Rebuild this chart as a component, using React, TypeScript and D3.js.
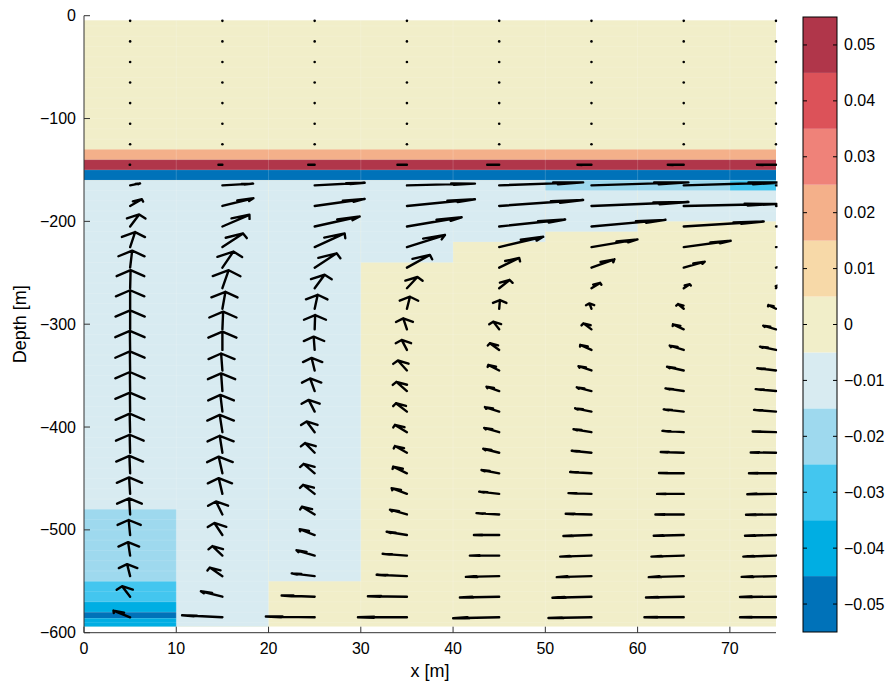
import React from "react";
import * as d3 from "d3";

// ---------- data ----------
const xColumns = [5, 15, 25, 35, 45, 55, 65, 75];
const depthRows = [-5, -25, -45, -65, -85, -105, -125, -145, -165, -185, -205, -225, -245, -265, -285, -305, -325, -345, -365, -385, -405, -425, -445, -465, -485, -505, -525, -545, -565, -585];

// horizontal velocity (scaled, x-units) per column, rows top -> bottom
const uX5 = [0, 0, 0, 0, 0, 0, 0, -0.05, 1.08, 1.27, 0.98, 0.54, 0.22, 0.05, 0, 0, -0.03, -0.03, -0.03, -0.03, -0.05, -0.05, -0.08, -0.11, -0.11, -0.16, -0.22, -0.33, -0.87, -1.81];
const uX15 = [0, 0, 0, 0, 0, 0, 0, -0.43, 3.33, 3.36, 2.93, 2.24, 1.19, 0.68, 0.33, 0.08, 0, -0.14, -0.14, -0.22, -0.29, -0.29, -0.4, -0.4, -0.7, -0.87, -1.08, -1.36, -2.33, -4.37];
const uX25 = [0, 0, 0, 0, 0, 0, 0, -0.7, 5.42, 5.42, 4.88, 3.25, 2.38, 1.08, 0.33, 0.05, -0.11, -0.33, -0.49, -0.65, -0.87, -1.03, -1.19, -1.25, -1.38, -1.63, -1.97, -2.49, -3.58, -5.29];
const uX35 = [0, 0, 0, 0, 0, 0, 0, -1.03, 7.37, 7.37, 5.93, 4.12, 2.49, 1.14, 0.33, -0.4, -0.57, -0.98, -1.14, -1.19, -1.3, -1.3, -1.49, -1.66, -1.84, -2.2, -2.63, -3.28, -4.23, -5.31];
const uX45 = [0, 0, 0, 0, 0, 0, 0, -1.3, 9.1, 9.1, 7.15, 4.77, 2.17, 1.14, 0.08, -0.65, -1.01, -1.19, -1.38, -1.55, -1.63, -1.73, -1.92, -2.17, -2.46, -2.74, -3.18, -3.61, -4.26, -4.99];
const uX55 = [0, 0, 0, 0, 0, 0, 0, -1.52, 10.51, 10.51, 8.02, 4.99, 2.49, 0.94, -0.22, -0.87, -1.22, -1.41, -1.59, -1.77, -1.95, -2.14, -2.31, -2.49, -2.79, -3.04, -3.39, -3.76, -4.23, -4.66];
const uX65 = [0, 0, 0, 0, 0, 0, 0, -1.73, 10.84, 10.08, 8.67, 5.09, 2.28, 0.65, -0.62, -1.16, -1.52, -1.81, -1.98, -2.17, -2.31, -2.49, -2.68, -2.89, -3.07, -3.25, -3.5, -3.79, -4.09, -4.26];
const uX75 = [0, 0, 0, 0, 0, 0, 0, -2.06, 10.84, 10.3, 9.22, 5.96, 2.38, 0.33, -0.83, -1.38, -1.73, -2.03, -2.2, -2.38, -2.53, -2.74, -2.93, -3.11, -3.25, -3.36, -3.54, -3.72, -3.9, -3.9];

// vertical velocity (scaled, depth-units) per column
const wX5 = [0, 0, 0, 0, 0, 0, 0, 0, 1.9, 6.5, 11.7, 14.6, 16.5, 17.5, 18.0, 18.5, 18.5, 18.5, 18.5, 18.5, 18.0, 17.5, 17.0, 16.0, 15.6, 14.6, 13.1, 11.7, 10.2, 6.5];
const wX15 = [0, 0, 0, 0, 0, 0, 0, 0, 1.7, 7.5, 11.4, 13.3, 15.6, 17.5, 16.5, 17.2, 17.8, 16.5, 17.2, 16.2, 16.8, 16.5, 16.2, 15.3, 12.6, 11.7, 9.2, 8.3, 5.3, 1.9];
const wX25 = [0, 0, 0, 0, 0, 0, 0, 0, 2.6, 6.8, 9.7, 13.3, 13.9, 13.1, 13.6, 13.9, 12.9, 12.2, 12.2, 11.4, 10.4, 9.4, 9.2, 8.8, 7.5, 5.6, 5.2, 2.7, 1.2, 0.7];
const wX35 = [0, 0, 0, 0, 0, 0, 0, 0, 1.7, 6.5, 9.0, 11.7, 12.4, 10.9, 11.7, 10.7, 9.7, 9.7, 9.0, 8.1, 7.1, 6.5, 6.5, 5.5, 4.6, 3.2, 1.7, 1.3, 0.5, 0];
const wX45 = [0, 0, 0, 0, 0, 0, 0, 0, 2.9, 5.8, 6.8, 10.0, 9.4, 8.0, 8.5, 7.5, 6.5, 5.3, 4.2, 4.4, 4.2, 3.9, 3.2, 2.2, 1.3, 0, 0, -0.7, -0.7, -1.0];
const wX55 = [0, 0, 0, 0, 0, 0, 0, 0, 2.9, 3.9, 6.5, 7.5, 8.1, 5.2, 5.2, 5.8, 4.9, 4.2, 3.6, 3.2, 2.9, 1.9, 1.3, 0.7, 0.7, -1.0, -1.0, -1.0, -1.0, -0.7];
const wX65 = [0, 0, 0, 0, 0, 0, 0, 0, 2.9, 1.9, 4.9, 6.1, 5.8, 3.9, 4.6, 4.9, 4.2, 3.6, 2.6, 2.2, 1.3, 0.7, 0.3, 0, 0, -0.7, -1.0, -1.0, -0.7, 0];
const wX75 = [0, 0, 0, 0, 0, 0, 0, 0, 2.9, 2.9, 4.9, 5.8, 5.8, 2.9, 3.6, 3.6, 3.2, 2.2, 1.9, 1.7, 0.7, 0.3, 0, -0.3, -0.3, -0.7, -1.0, -0.7, -0.3, 0];

const uColumns = [uX5, uX15, uX25, uX35, uX45, uX55, uX65, uX75];
const wColumns = [wX5, wX15, wX25, wX35, wX45, wX55, wX65, wX75];

// filled field: [x0, x1, depthTop, depthBottom, value]; background value 0
const fieldExtent = [0, 75, -4.5, -594];
const fieldBackground = 0;
const fieldPatches: number[][] = [
  [0, 75, -130, -140, 0.02],
  [0, 75, -140, -150, 0.05],
  [0, 75, -150, -160, -0.05],
  [0, 20, -160, -594, -0.01],
  [20, 30, -160, -550, -0.01],
  [30, 40, -160, -240, -0.01],
  [40, 50, -160, -220, -0.01],
  [50, 60, -160, -210, -0.01],
  [60, 75, -160, -200, -0.01],
  [50, 70, -160, -170, -0.02],
  [70, 75, -160, -170, -0.03],
  [0, 10, -480, -550, -0.02],
  [0, 10, -550, -570, -0.03],
  [0, 10, -570, -580, -0.04],
  [0, 10, -580, -586, -0.05],
  [0, 10, -586, -594, -0.04],
];

const levels = [-0.05, -0.04, -0.03, -0.02, -0.01, 0, 0.01, 0.02, 0.03, 0.04, 0.05];
const levelColors = ["#0072b9", "#00aee3", "#43c6ef", "#9ed9ee", "#d8ebf1", "#f1eec9", "#f7d9a8", "#f4b08a", "#ef8279", "#dc5259", "#b0364a"];
const levelLabels = ["−0.05", "−0.04", "−0.03", "−0.02", "−0.01", "0", "0.01", "0.02", "0.03", "0.04", "0.05"];

const xTicks = [0, 10, 20, 30, 40, 50, 60, 70];
const yTicks = [0, -100, -200, -300, -400, -500, -600];
const yTickLabels = ["0", "−100", "−200", "−300", "−400", "−500", "−600"];

const FONT = "'Liberation Sans', Arial, Helvetica, sans-serif";

export default function App() {
  const W = 890, H = 684;
  const x = d3.scaleLinear().domain([0, 75]).range([84, 776]);
  const y = d3.scaleLinear().domain([-600, 0]).range([632.7, 15.7]);
  const color = d3
    .scaleThreshold<number, string>()
    .domain(levels.slice(1).map((l) => l - 0.005))
    .range(levelColors);
  const cb = d3.scaleLinear().domain([-0.055, 0.055]).range([632, 17]);
  const cbX = 803, cbW = 34;

  const alpha = 0.33, beta = 0.26;
  const arrows: React.ReactNode[] = [];
  xColumns.forEach((xc, ci) => {
    depthRows.forEach((zr, ri) => {
      const u = uColumns[ci][ri];
      const w = wColumns[ci][ri];
      const key = `${ci}-${ri}`;
      if (Math.abs(u) < 1e-9 && Math.abs(w) < 1e-9) {
        arrows.push(<circle key={key} cx={x(xc)} cy={y(zr)} r={1.3} fill="#000" stroke="none" />);
        return;
      }
      const tx = xc + u, tz = zr + w;
      const b1x = tx - alpha * (u + beta * w), b1z = tz - alpha * (w - beta * u);
      const b2x = tx - alpha * (u - beta * w), b2z = tz - alpha * (w + beta * u);
      const d = `M${x(xc)},${y(zr)}L${x(tx)},${y(tz)}M${x(b1x)},${y(b1z)}L${x(tx)},${y(tz)}L${x(b2x)},${y(b2z)}`;
      arrows.push(<path key={key} d={d} />);
    });
  });

  const [fx0, fx1, fz0, fz1] = fieldExtent;
  const seamX = d3.range(10, 75, 10);
  const seamZ = d3.range(-10, -594, -10);

  return (
    <svg width={W} height={H} style={{ position: "absolute", left: 0, top: 0, background: "#fff" }} fontFamily={FONT}>
      <defs>
        <clipPath id="plotclip">
          <rect x={83} y={14} width={694.5} height={620} />
        </clipPath>
      </defs>
      {/* filled field */}
      <rect x={x(fx0)} y={y(fz0)} width={x(fx1) - x(fx0)} height={y(fz1) - y(fz0)} fill={color(fieldBackground)} />
      {fieldPatches.map((p, i) => (
        <rect key={i} x={x(p[0])} y={y(p[2])} width={x(p[1]) - x(p[0])} height={y(p[3]) - y(p[2])} fill={color(p[4])} />
      ))}
      {/* faint rendering seams */}
      <g stroke="#fff" strokeOpacity={0.25} strokeWidth={0.7}>
        {seamX.map((s) => (
          <line key={"sx" + s} x1={x(s)} x2={x(s)} y1={y(fz0)} y2={y(fz1)} />
        ))}
        {seamZ.map((s) => (
          <line key={"sz" + s} x1={x(fx0)} x2={x(fx1)} y1={y(s)} y2={y(s)} strokeOpacity={0.18} />
        ))}
      </g>
      {/* quiver */}
      <g clipPath="url(#plotclip)" stroke="#000" strokeWidth={2.4} strokeLinecap="round" strokeLinejoin="round" fill="none">
        {arrows}
      </g>
      {/* axes */}
      <g stroke="#333" strokeWidth={1} fill="none">
        <line x1={x(0)} x2={x(0)} y1={y(0)} y2={y(-600)} />
        <line x1={x(0)} x2={x(75)} y1={y(-600)} y2={y(-600)} />
        {yTicks.map((t) => (
          <line key={"yt" + t} x1={x(0)} x2={x(0) + 6} y1={y(t)} y2={y(t)} />
        ))}
        {xTicks.map((t) => (
          <line key={"xt" + t} x1={x(t)} x2={x(t)} y1={y(-600)} y2={y(-600) - 6} />
        ))}
      </g>
      <g fontSize={16} fill="#000">
        {yTicks.map((t, i) => (
          <text key={"yl" + t} x={76} y={y(t)} textAnchor="end" dominantBaseline="central">
            {yTickLabels[i]}
          </text>
        ))}
        {xTicks.map((t) => (
          <text key={"xl" + t} x={x(t)} y={654} textAnchor="middle">
            {t}
          </text>
        ))}
      </g>
      <text x={430} y={677} textAnchor="middle" fontSize={18}>x [m]</text>
      <text transform={`translate(26,${y(-300)}) rotate(-90)`} textAnchor="middle" fontSize={18}>Depth [m]</text>
      {/* colorbar */}
      {levels.map((l, i) => (
        <rect key={"cb" + i} x={cbX} y={cb(l + 0.005)} width={cbW} height={cb(l - 0.005) - cb(l + 0.005)} fill={levelColors[i]} />
      ))}
      <rect x={cbX} y={cb(0.055)} width={cbW} height={cb(-0.055) - cb(0.055)} fill="none" stroke="#000" strokeWidth={1} />
      <g stroke="#000" strokeWidth={1}>
        {levels.map((l, i) => (
          <g key={"cbt" + i}>
            <line x1={cbX} x2={cbX + 4} y1={cb(l)} y2={cb(l)} />
            <line x1={cbX + cbW - 4} x2={cbX + cbW} y1={cb(l)} y2={cb(l)} />
          </g>
        ))}
      </g>
      <g fontSize={16} fill="#000">
        {levels.map((l, i) => (
          <text key={"cbl" + i} x={844} y={cb(l)} dominantBaseline="central">
            {levelLabels[i]}
          </text>
        ))}
      </g>
    </svg>
  );
}
